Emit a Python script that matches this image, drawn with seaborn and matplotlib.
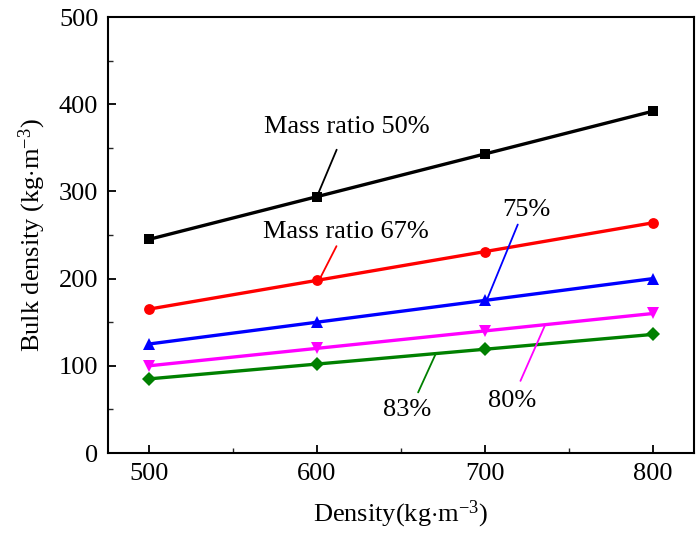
import matplotlib
matplotlib.use("Agg")
import matplotlib.pyplot as plt
from matplotlib.ticker import MultipleLocator
import seaborn as sns
import pandas as pd

density = [500, 600, 700, 800]
ratio_50 = [245, 294, 343, 392]
ratio_67 = [165, 198, 231, 264]
ratio_75 = [125, 150, 175, 200]
ratio_80 = [100, 120, 140, 160]
ratio_83 = [85, 102, 119, 136]

series_names = ["50%", "67%", "75%", "80%", "83%"]
series_values = [ratio_50, ratio_67, ratio_75, ratio_80, ratio_83]
colors = ["black", "red", "blue", "magenta", "green"]
markers = ["s", "o", "^", "v", "D"]
marker_sizes = [7.5, 7.8, 9.0, 9.0, 7.5]

df = pd.concat(
    [pd.DataFrame({"density": density, "bulk": vals, "ratio": name})
     for name, vals in zip(series_names, series_values)],
    ignore_index=True,
)

sns.set_theme(style="white")
plt.rcParams["font.family"] = ["Liberation Serif", "DejaVu Serif"]
plt.rcParams["mathtext.fontset"] = "custom"
plt.rcParams["mathtext.rm"] = "Liberation Serif"
plt.rcParams["mathtext.it"] = "Liberation Serif:italic"

FS = 19

fig = plt.figure(figsize=(6.99, 5.41), dpi=100)
ax = fig.add_axes([108 / 699, 1 - 453 / 541, (694 - 108) / 699, (453 - 17) / 541])

sns.lineplot(
    data=df, x="density", y="bulk", hue="ratio", style="ratio",
    palette=colors, markers=markers, dashes=False, ax=ax,
    linewidth=2.4, markersize=7.5, markeredgewidth=0, legend=False,
)
for line, ms in zip(ax.lines, marker_sizes):
    line.set_markersize(ms)

ax.set_xlim(475.6, 824.4)
ax.set_ylim(0, 500)
ax.xaxis.set_major_locator(MultipleLocator(100))
ax.xaxis.set_minor_locator(MultipleLocator(50))
ax.yaxis.set_major_locator(MultipleLocator(100))
ax.yaxis.set_minor_locator(MultipleLocator(50))
ax.tick_params(axis="both", which="major", direction="in", length=6, width=1.3,
               labelsize=FS, colors="black", pad=7, top=False, right=False,
               bottom=True, left=True)
ax.tick_params(axis="both", which="minor", direction="in", length=3.5, width=1.0,
               top=False, right=False, bottom=True, left=True)
for s in ax.spines.values():
    s.set_color("black")
    s.set_linewidth(1.5)

ax.set_xlabel(r"Density(kg$\cdot$m$^{-3}$)", fontsize=FS, color="black", labelpad=10)
ax.set_ylabel(r"Bulk density (kg$\cdot$m$^{-3}$)", fontsize=FS, color="black", labelpad=8)

notes = [
    ("Mass ratio 50%", (618, 374), (611.7, 347.8), (600.4, 296), "black"),
    ("Mass ratio 67%", (617.3, 254), (611.6, 237.2), (602, 201), "red"),
    ("75%", (724.7, 279), (719.5, 262), (701.2, 176), "blue"),
    ("80%", (716.3, 59.5), (735.5, 145.6), (721.1, 82.7), "magenta"),
    ("83%", (653.9, 49), (670.5, 113), (660.2, 69.5), "green"),
]
for text, tpos, p0, p1, c in notes:
    ax.text(tpos[0], tpos[1], text, fontsize=FS, color="black",
            ha="center", va="center")
    ax.plot([p0[0], p1[0]], [p0[1], p1[1]], color=c, linewidth=1.3)

fig.savefig("out.png", dpi=100)
